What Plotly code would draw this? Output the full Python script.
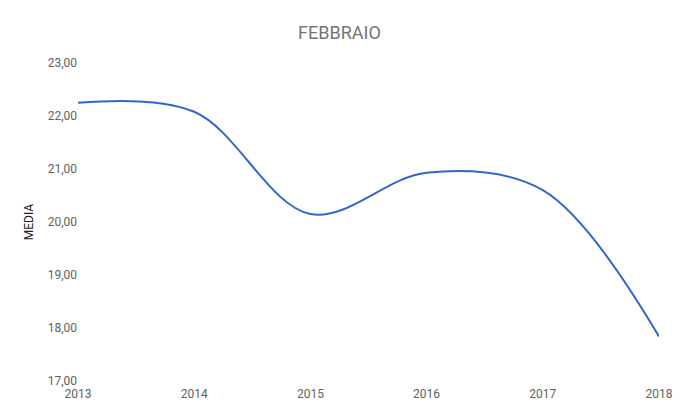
import plotly.graph_objects as go

years = [2013, 2014, 2015, 2016, 2017, 2018]
media = [22.25, 22.08, 20.15, 20.93, 20.6, 17.84]
y_ticks = [17, 18, 19, 20, 21, 22, 23]

fig = go.Figure()
fig.add_trace(go.Scatter(
    x=years, y=media, mode="lines",
    line=dict(color="#3366cc", width=2, shape="spline", smoothing=1.0),
    showlegend=False, hoverinfo="x+y",
))

fig.update_layout(
    width=677, height=405,
    margin=dict(l=70, r=23, t=55, b=32),
    paper_bgcolor="white", plot_bgcolor="white",
    separators=",.",
    font=dict(family="Roboto", color="#616161", size=12),
    title=dict(text="FEBBRAIO", xref="paper", x=0.45, xanchor="center", y=0.94, yanchor="middle",
               font=dict(family="Roboto", size=18, color="#757575")),
    xaxis=dict(range=[2013, 2018], tickvals=years, ticktext=[str(y) for y in years],
               showgrid=False, zeroline=False, showline=False, ticks="",
               ticklabelstandoff=4,
               tickfont=dict(size=12, color="#616161")),
    yaxis=dict(range=[17, 23], tickvals=y_ticks, tickformat=".2f",
               showgrid=False, zeroline=False, showline=False, ticks="",
               tickfont=dict(size=12, color="#616161"),
               title=dict(text="MEDIA", font=dict(size=12, color="#222222"), standoff=11)),
)

fig.write_html("out.html")
